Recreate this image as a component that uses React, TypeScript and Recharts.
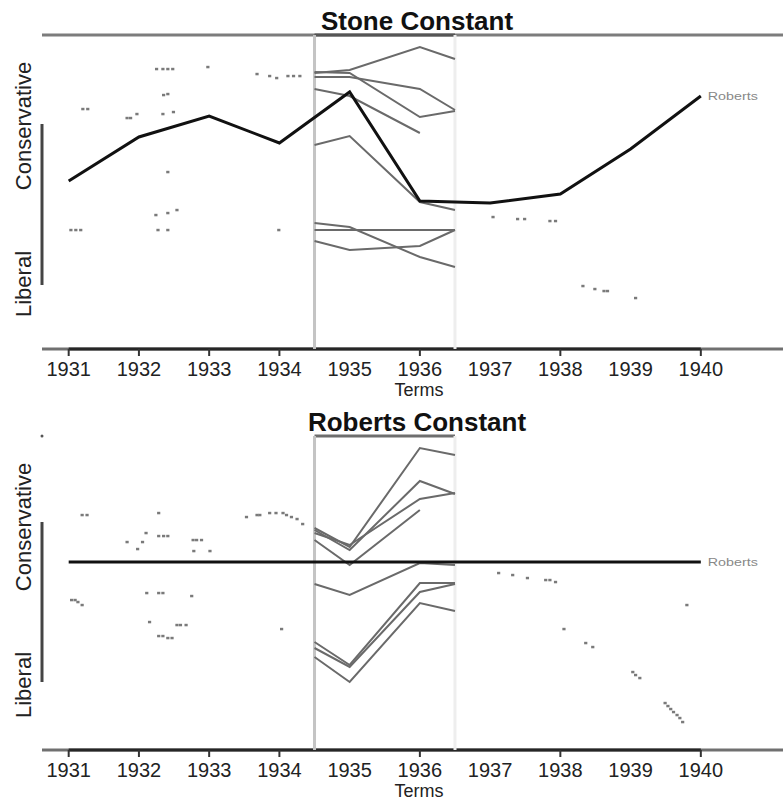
import React from 'react';
import {
  ComposedChart,
  Line,
  Scatter,
  XAxis,
  YAxis,
  ReferenceLine,
  ReferenceDot,
} from 'recharts';

// ---------- data ----------
const YEARS = [1931, 1932, 1933, 1934, 1935, 1936, 1937, 1938, 1939, 1940];
const TICK_MARK_YEARS = [1931, 1932, 1933, 1934, 1936, 1938, 1940];
const X_DOMAIN: [number, number] = [1930.62, 1941.17];
const Y_DOMAIN: [number, number] = [-3.14, 3.14];
const WINDOW_START = 1934.5;
const WINDOW_END = 1936.5;
const WINDOW_X = [1934.5, 1935, 1936, 1936.5];

// Stone constant panel
const stoneRoberts = [0.22, 1.1, 1.52, 0.98, 2.0, -0.18, -0.22, -0.04, 0.86, 1.92];
const stoneOther1 = [2.38, 2.44, 2.9, 2.66];
const stoneOther2 = [2.3, 2.3, 2.06, 1.64];
const stoneOther3 = [2.4, 2.38, 1.5, 1.62];
const stoneOther4 = [2.06, 1.92, 1.18, null];
const stoneOther5 = [0.94, 1.12, -0.2, -0.36];
const stoneOther6 = [-0.62, -0.7, -1.3, -1.5];
const stoneOther7 = [-0.76, -0.76, -0.76, -0.76];
const stoneOther8 = [-0.98, -1.16, -1.08, -0.76];
const stoneFaint: [number, number][] = [
  [1932.25, 2.46], [1932.34, 2.46], [1932.41, 2.46], [1932.48, 2.46],
  [1932.98, 2.5], [1933.68, 2.36], [1933.86, 2.32], [1933.96, 2.28],
  [1934.12, 2.32], [1934.2, 2.32], [1934.29, 2.32],
  [1932.35, 1.94], [1932.41, 1.96], [1931.2, 1.66], [1931.27, 1.66],
  [1931.83, 1.48], [1931.88, 1.48], [1931.97, 1.56], [1932.34, 1.56],
  [1932.49, 1.6], [1932.41, 0.4], [1932.24, -0.46], [1932.41, -0.42],
  [1932.54, -0.36], [1931.03, -0.76], [1931.1, -0.76], [1931.17, -0.76],
  [1932.27, -0.76], [1932.41, -0.76], [1933.99, -0.76],
  [1937.04, -0.5], [1937.39, -0.54], [1937.49, -0.54], [1937.85, -0.58],
  [1937.93, -0.58], [1938.32, -1.88], [1938.49, -1.94], [1938.62, -1.98],
  [1938.67, -1.98], [1939.07, -2.12],
];
const stoneRangeFrame: [number, number] = [1.36, -1.86];

// Roberts constant panel
const robertsRoberts = [0.62, 0.62, 0.62, 0.62, 0.62, 0.62, 0.62, 0.62, 0.62, 0.62];
const robertsOther1 = [1.3, 0.92, 2.9, 2.76];
const robertsOther2 = [1.26, 0.86, 2.24, 1.98];
const robertsOther3 = [1.2, 0.96, 1.88, 2.0];
const robertsOther4 = [1.06, 0.56, 1.66, null];
const robertsOther5 = [0.18, -0.04, 0.6, 0.56];
const robertsOther6 = [-0.98, -1.44, 0.2, 0.2];
const robertsOther7 = [-1.1, -1.48, 0.02, 0.18];
const robertsOther8 = [-1.28, -1.78, -0.2, -0.36];
const robertsFaint: [number, number][] = [
  [1931.19, 1.56], [1931.26, 1.56], [1932.28, 1.6], [1933.53, 1.52],
  [1933.68, 1.56], [1933.72, 1.56], [1933.86, 1.6], [1933.95, 1.6],
  [1934.05, 1.6], [1934.1, 1.56], [1934.17, 1.52], [1934.25, 1.48],
  [1934.33, 1.38], [1932.1, 1.2], [1931.83, 1.02], [1932.05, 1.02],
  [1931.98, 0.88], [1932.28, 1.14], [1932.35, 1.14], [1932.41, 1.14],
  [1932.77, 1.06], [1932.82, 1.06], [1932.89, 1.06], [1932.78, 0.84],
  [1933.01, 0.84], [1931.04, -0.14], [1931.09, -0.14], [1931.13, -0.18],
  [1931.19, -0.24], [1932.11, 0.0], [1932.28, 0.0], [1932.34, 0.0],
  [1932.75, -0.06], [1932.15, -0.58], [1932.54, -0.64], [1932.59, -0.64],
  [1932.67, -0.64], [1932.28, -0.86], [1932.34, -0.86], [1932.41, -0.9],
  [1932.47, -0.9], [1934.03, -0.72], [1937.12, 0.4], [1937.32, 0.36],
  [1937.53, 0.3], [1937.79, 0.26], [1937.85, 0.26], [1937.93, 0.22],
  [1939.8, -0.24], [1938.05, -0.72], [1938.36, -1.0], [1938.46, -1.08],
  [1939.03, -1.58], [1939.07, -1.64], [1939.13, -1.7],
  [1939.49, -2.2], [1939.53, -2.26], [1939.57, -2.32], [1939.61, -2.38],
  [1939.66, -2.44], [1939.7, -2.5], [1939.74, -2.58],
];
const robertsRangeFrame: [number, number] = [1.42, -1.78];

// ---------- helpers ----------
const FONT = '"Liberation Sans", Arial, sans-serif';
const toSeries = (xs: number[], ys: (number | null)[]) =>
  xs.map((x, i) => ({ x, y: ys[i] })).filter((d) => d.y !== null);
const toPoints = (pts: [number, number][]) => pts.map(([x, y]) => ({ x, y }));

const Tick = (props: any) => {
  const { x, payload } = props;
  const v = payload.value;
  return (
    <g>
      {TICK_MARK_YEARS.includes(v) && (
        <line x1={x} x2={x} y1={349} y2={356} stroke="#333" strokeWidth={2} />
      )}
      <text x={x} y={376} textAnchor="middle" fontSize={20} fontFamily={FONT} fill="#222">
        {v}
      </text>
    </g>
  );
};

const FaintShape = (p: any) => (
  <rect x={p.cx - 1.5} y={p.cy - 1.2} width={3.2} height={2.5} fill="#7a7a7a" />
);

type PanelProps = {
  title: string;
  top: number;
  roberts: number[];
  others: (number | null)[][];
  faint: [number, number][];
  rangeFrame: [number, number];
  fullTopLine: boolean;
};

const Panel = ({ title, top, roberts, others, faint, rangeFrame, fullTopLine }: PanelProps) => {
  const robertsData = toSeries(YEARS, roberts);
  const last = robertsData.length - 1;
  return (
    <div style={{ position: 'absolute', left: 0, top, width: 783, height: 401 }}>
      <ComposedChart
        width={783}
        height={401}
        margin={{ top: 35, right: 0, bottom: 22, left: 42 }}
      >
        <XAxis
          type="number"
          dataKey="x"
          domain={X_DOMAIN}
          ticks={YEARS}
          interval={0}
          allowDataOverflow
          axisLine={false}
          tickLine={false}
          tick={<Tick />}
          height={30}
        />
        <YAxis type="number" dataKey="y" domain={Y_DOMAIN} hide allowDataOverflow />

        {/* top frame line */}
        {fullTopLine && (
          <ReferenceLine
            segment={[{ x: X_DOMAIN[0], y: Y_DOMAIN[1] }, { x: X_DOMAIN[1], y: Y_DOMAIN[1] }]}
            stroke="#7c7c7c"
            strokeWidth={3}
            ifOverflow="visible"
          />
        )}
        <ReferenceLine
          segment={[{ x: WINDOW_START, y: Y_DOMAIN[1] }, { x: WINDOW_END, y: Y_DOMAIN[1] }]}
          stroke={fullTopLine ? '#555' : '#6e6e6e'}
          strokeWidth={3}
          ifOverflow="visible"
        />
        {!fullTopLine && (
          <ReferenceDot x={X_DOMAIN[0]} y={Y_DOMAIN[1]} r={1.5} fill="#555" stroke="none" ifOverflow="visible" />
        )}

        {/* bottom axis line (range frame) */}
        <ReferenceLine
          segment={[{ x: X_DOMAIN[0], y: Y_DOMAIN[0] }, { x: X_DOMAIN[1], y: Y_DOMAIN[0] }]}
          stroke="#707070"
          strokeWidth={3}
          ifOverflow="visible"
        />
        <ReferenceLine
          segment={[{ x: YEARS[0], y: Y_DOMAIN[0] }, { x: YEARS[YEARS.length - 1], y: Y_DOMAIN[0] }]}
          stroke="#262626"
          strokeWidth={3}
          ifOverflow="visible"
        />
        {/* left range frame */}
        <ReferenceLine
          segment={[{ x: X_DOMAIN[0], y: rangeFrame[0] }, { x: X_DOMAIN[0], y: rangeFrame[1] }]}
          stroke="#444"
          strokeWidth={3}
          ifOverflow="visible"
        />

        {/* window boundaries */}
        <ReferenceLine x={WINDOW_START} stroke="#c4c4c4" strokeWidth={3} ifOverflow="visible" />
        <ReferenceLine x={WINDOW_END} stroke="#eeeeee" strokeWidth={3} ifOverflow="visible" />

        <Scatter data={toPoints(faint)} shape={<FaintShape />} isAnimationActive={false} />

        {others.map((ys, i) => (
          <Line
            key={i}
            data={toSeries(WINDOW_X, ys)}
            dataKey="y"
            type="linear"
            stroke="#6a6a6a"
            strokeWidth={2}
            dot={false}
            isAnimationActive={false}
          />
        ))}

        <Line
          data={robertsData}
          dataKey="y"
          type="linear"
          stroke="#111"
          strokeWidth={3}
          dot={false}
          isAnimationActive={false}
          label={(p: any) =>
            p.index === last ? (
              <text
                key="lbl"
                x={p.x + 7}
                y={p.y + 4}
                fontSize={10}
                fontFamily={FONT}
                fill="#888"
                textLength={50}
                lengthAdjust="spacingAndGlyphs"
              >
                Roberts
              </text>
            ) : (
              <g key={'e' + p.index} />
            )
          }
        />
      </ComposedChart>

      <svg
        width={783}
        height={401}
        style={{ position: 'absolute', left: 0, top: 0, pointerEvents: 'none', overflow: 'visible' }}
      >
        <text x={417} y={30} textAnchor="middle" fontSize={26} fontWeight="bold" fontFamily={FONT} fill="#111">
          {title}
        </text>
        <text
          transform="translate(31,126) rotate(-90)"
          textAnchor="middle"
          fontSize={22}
          fontFamily={FONT}
          fill="#222"
        >
          Conservative
        </text>
        <text
          transform="translate(31,284) rotate(-90)"
          textAnchor="middle"
          fontSize={22}
          fontFamily={FONT}
          fill="#222"
        >
          Liberal
        </text>
        <text x={419} y={396} textAnchor="middle" fontSize={18} fontFamily={FONT} fill="#222">
          Terms
        </text>
      </svg>
    </div>
  );
}

export default function App() {
  return (
    <div style={{ position: 'absolute', left: 0, top: 0, width: 783, height: 804, background: '#fff' }}>
      <Panel
        title="Stone Constant"
        top={0}
        roberts={stoneRoberts}
        others={[stoneOther1, stoneOther2, stoneOther3, stoneOther4, stoneOther5, stoneOther6, stoneOther7, stoneOther8]}
        faint={stoneFaint}
        rangeFrame={stoneRangeFrame}
        fullTopLine
      />
      <Panel
        title="Roberts Constant"
        top={401}
        roberts={robertsRoberts}
        others={[robertsOther1, robertsOther2, robertsOther3, robertsOther4, robertsOther5, robertsOther6, robertsOther7, robertsOther8]}
        faint={robertsFaint}
        rangeFrame={robertsRangeFrame}
        fullTopLine={false}
      />
    </div>
  );
}
